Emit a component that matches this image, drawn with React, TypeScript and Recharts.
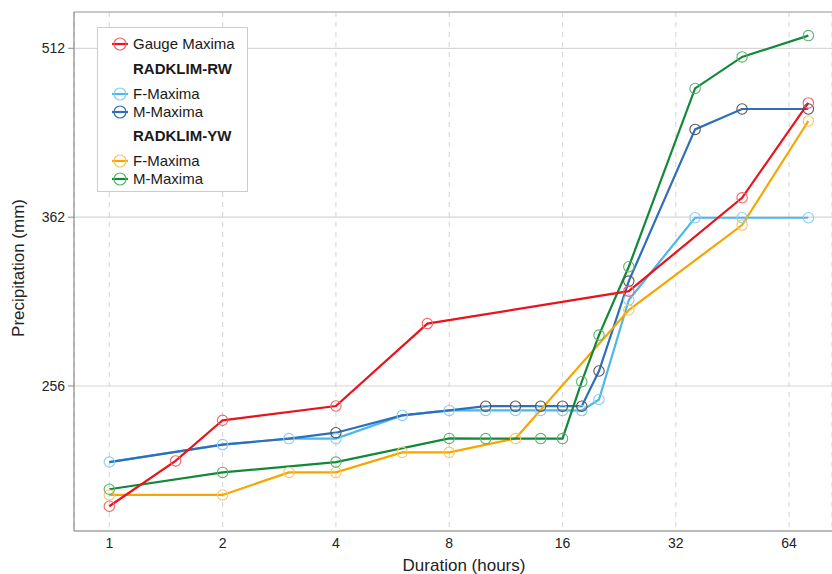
import React from 'react';
import { LineChart, Line, XAxis, YAxis, CartesianGrid, ReferenceLine } from 'recharts';

// ---- data ----
const gaugeDurations = [1, 1.5, 2, 4, 7, 24, 48, 72];
const gaugeMaxima = [200, 219.5, 238.6, 245.7, 291, 311, 376.7, 457.7];

const rwDurations = [1, 2, 3, 4, 6, 8, 10, 12, 14, 16, 18, 20, 24, 36, 48, 72];
const rwFMaxima = [219, 227, 229.8, 229.8, 241, 243.5, 243.5, 243.5, 243.5, 243.5, 243.4, 249, 305.4, 361.6, 361.6, 361.6];
const rwMMaxima = [219, 227, 229.8, 232.6, 241, 243.5, 245.6, 245.6, 245.6, 245.6, 245.6, 264, 317.5, 433.5, 452, 452];

const ywFDurations = [1, 2, 3, 4, 6, 8, 12, 24, 48, 72];
const ywFMaxima = [204.7, 204.7, 214.4, 214.4, 223.4, 223.4, 229.8, 299.2, 356.2, 441];

const ywMDurations = [1, 2, 4, 8, 10, 14, 16, 18, 20, 24, 36, 48, 72];
const ywMMaxima = [207.1, 214.4, 219, 229.9, 229.8, 229.8, 229.8, 258.3, 284.2, 327, 471.5, 503, 525.5];

const xTicks = [1, 2, 4, 8, 16, 32, 64];
const yTicks = [256, 362, 512];
const xDomain = [0.8057, 83.2];
const yDomain = [190.1, 551.6];

const toPoints = (xs: number[], ys: number[]) => xs.map((x, i) => ({ x, y: ys[i] }));

type Series = { key: string; name: string; data: { x: number; y: number }[]; color: string; marker: string; hideAt?: number[] };

// M-Maxima markers coincide with (and are hidden by) the F-Maxima markers where both values are equal
const rwMHidden = rwDurations.filter((d, i) => rwMMaxima[i] === rwFMaxima[i]);

const rwF: Series = { key: 'rwF', name: 'F-Maxima', data: toPoints(rwDurations, rwFMaxima), color: '#4db6ea', marker: '#86cdf2' };
const rwM: Series = { key: 'rwM', name: 'M-Maxima', data: toPoints(rwDurations, rwMMaxima), color: '#2f6fba', marker: '#555555', hideAt: rwMHidden };
const ywF: Series = { key: 'ywF', name: 'F-Maxima', data: toPoints(ywFDurations, ywFMaxima), color: '#f8a500', marker: '#fcc55a' };
const ywM: Series = { key: 'ywM', name: 'M-Maxima', data: toPoints(ywMDurations, ywMMaxima), color: '#138838', marker: '#5cb46f' };
const gauge: Series = { key: 'gauge', name: 'Gauge Maxima', data: toPoints(gaugeDurations, gaugeMaxima), color: '#e8131b', marker: '#f0646b' };

const drawOrder = [rwF, rwM, ywF, ywM, gauge];

type LegendRow = { header?: string; series?: Series; center: number; iconColor?: string };
const legendRows: LegendRow[] = [
  { series: gauge, center: 16 },
  { header: 'RADKLIM-RW', center: 41 },
  { series: rwF, center: 65.5 },
  { series: rwM, center: 83.5, iconColor: '#2f6fba' },
  { header: 'RADKLIM-YW', center: 108 },
  { series: ywF, center: 133 },
  { series: ywM, center: 151 },
];

const FONT = '"Liberation Sans", Arial, Helvetica, sans-serif';

function LegendBox() {
  return (
    <div
      style={{
        position: 'absolute',
        left: 97,
        top: 27,
        width: 151,
        height: 165,
        border: '1.5px solid #cccccc',
        background: '#ffffff',
        fontFamily: FONT,
        fontSize: 15,
        color: '#1a1a1a',
        boxSizing: 'border-box',
      }}
    >
      {legendRows.map((r, i) => (
        <div
          key={i}
          style={{
            position: 'absolute',
            left: 0,
            top: r.center - 10,
            height: 20,
            lineHeight: '20px',
            width: '100%',
            whiteSpace: 'nowrap',
          }}
        >
          {r.series ? (
            <svg width={20} height={20} style={{ position: 'absolute', left: 13, top: 0 }}>
              <line x1={1} y1={10} x2={17} y2={10} stroke={r.series.color} strokeWidth={2.2} />
              <circle cx={9} cy={10} r={6} fill="none" stroke={r.iconColor || r.series.marker} strokeWidth={1.2} />
            </svg>
          ) : null}
          <span
            style={{
              position: 'absolute',
              left: 35,
              top: 0,
              fontWeight: r.header ? 700 : 400,
            }}
          >
            {r.header || (r.series ? r.series.name : '')}
          </span>
        </div>
      ))}
    </div>
  );
}

function makeDot(s: Series) {
  return (props: any) => {
    const { cx, cy, payload, index } = props;
    const key = `${s.key}-dot-${index}`;
    if (cx == null || cy == null || (s.hideAt && payload && s.hideAt.includes(payload.x))) {
      return <g key={key} />;
    }
    return <circle key={key} cx={cx} cy={cy} r={5.2} fill="none" stroke={s.marker} strokeWidth={1.1} />;
  };
}

export default function App() {
  return (
    <div style={{ position: 'absolute', left: 0, top: 0, width: 832, height: 574, background: '#ffffff' }}>
      <LineChart width={832} height={574} margin={{ top: 12, right: 0, bottom: 0, left: 14 }}>
        <CartesianGrid horizontal={true} vertical={false} stroke="#d6d6d6" strokeWidth={1.2} />
        <CartesianGrid horizontal={false} vertical={true} stroke="#dadada" strokeDasharray="5 5" strokeWidth={1.2} />
        <XAxis
          dataKey="x"
          type="number"
          scale="log"
          domain={xDomain}
          ticks={xTicks}
          allowDataOverflow
          height={43}
          tickSize={5}
          tickMargin={2}
          tickLine={false}
          axisLine={{ stroke: '#8a8a8a', strokeWidth: 1.2 }}
          tick={{ fontFamily: FONT, fontSize: 14, fill: '#222222' }}
        />
        <YAxis
          type="number"
          scale="log"
          domain={yDomain}
          ticks={yTicks}
          allowDataOverflow
          width={60}
          tickSize={6}
          tickMargin={3}
          tickLine={{ stroke: '#8a8a8a' }}
          axisLine={{ stroke: '#8a8a8a', strokeWidth: 1.2 }}
          tick={{ fontFamily: FONT, fontSize: 14, fill: '#222222' }}
        />
        <ReferenceLine y={yDomain[1]} stroke="#a8a8a8" strokeWidth={1.2} />
        {drawOrder.map((s) => (
          <Line
            key={s.key}
            data={s.data}
            dataKey="y"
            name={s.name}
            type="linear"
            stroke={s.color}
            strokeWidth={2.2}
            dot={makeDot(s)}
            activeDot={false}
            isAnimationActive={false}
          />
        ))}
      </LineChart>
      <svg
        width={832}
        height={574}
        style={{ position: 'absolute', left: 0, top: 0, pointerEvents: 'none' }}
      >
        <text x={464} y={571} textAnchor="middle" fontFamily={FONT} fontSize={17} fill="#222222">
          Duration (hours)
        </text>
        <text
          x={0}
          y={0}
          transform="translate(24,268) rotate(-90)"
          textAnchor="middle"
          fontFamily={FONT}
          fontSize={17}
          fill="#222222"
        >
          Precipitation (mm)
        </text>
      </svg>
      <LegendBox />
    </div>
  );
}
